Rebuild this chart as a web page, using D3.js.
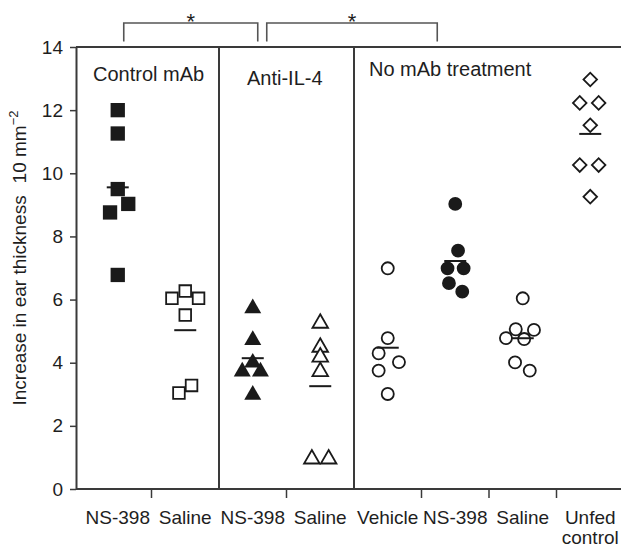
<!DOCTYPE html>
<html>
<head>
<script src="https://d3js.org/d3.v7.min.js"></script>
<style>
  body { margin: 0; background: #fff; }
  svg text { font-family: "Liberation Sans", Arial, Helvetica, sans-serif; fill: #1e1e1e; }
</style>
</head>
<body>
<div id="chart"></div>
<script>

// categories along the x axis, left to right
var categories = ["ctlNS", "ctlSal", "il4NS", "il4Sal", "veh", "noNS", "noSal", "unfed"];
var catLabels = [["NS-398"], ["Saline"], ["NS-398"], ["Saline"], ["Vehicle"], ["NS-398"], ["Saline"], ["Unfed", "control"]];

// boxed panels: name and first category of each
var panelNames = ["Control mAb", "Anti-IL-4", "No mAb treatment"];
var panelFirst = ["ctlNS", "il4NS", "veh"];

var yTicks = [0, 2, 4, 6, 8, 10, 12, 14];

// increase in ear thickness (10 mm^-2), one value per animal
var ctlNS398  = [12.0, 11.26, 9.5, 9.03, 8.76, 6.78];
var ctlSaline = [6.27, 6.04, 6.04, 5.51, 3.28, 3.04];
var il4NS398  = [5.72, 4.72, 4.0, 3.72, 3.72, 2.98];
var il4Saline = [5.25, 4.49, 4.18, 3.72, 0.95, 0.95];
var vehicle   = [6.99, 4.78, 4.30, 4.02, 3.75, 3.01];
var noNS398   = [9.03, 7.55, 6.99, 6.99, 6.52, 6.25];
var noSaline  = [6.04, 5.06, 5.04, 4.78, 4.75, 4.01, 3.75];
var unfed     = [12.97, 12.23, 12.23, 11.52, 10.26, 10.26, 9.26];

// side-by-side column of each point (in marker widths) where points overlap
var ctlNS398Col  = [0, 0, 0, 0.75, -0.55, 0];
var ctlSalineCol = [0, -0.95, 0.95, 0, 0.45, -0.45];
var il4NS398Col  = [0, 0, 0, -0.75, 0.55, 0];
var il4SalineCol = [0, 0, 0, 0, -0.6, 0.6];
var vehicleCol   = [0, 0, -0.65, 0.8, -0.65, 0];
var noNS398Col   = [0, 0.2, -0.55, 0.6, -0.45, 0.5];
var noSalineCol  = [0, -0.5, 0.8, -1.2, 0.1, -0.55, 0.5];
var unfedCol     = [0, -0.75, 0.6, 0, -0.75, 0.6, 0];

// significance brackets
var brackets = [
  { from: "ctlNS", to: "il4NS", label: "*" },
  { from: "il4NS", to: "noNS", label: "*" }
];

var groups = [
  { cat: "ctlNS",  values: ctlNS398,  col: ctlNS398Col,  shape: "square" },
  { cat: "ctlSal", values: ctlSaline, col: ctlSalineCol, shape: "squareOpen" },
  { cat: "il4NS",  values: il4NS398,  col: il4NS398Col,  shape: "triangle" },
  { cat: "il4Sal", values: il4Saline, col: il4SalineCol, shape: "triangleOpen" },
  { cat: "veh",    values: vehicle,   col: vehicleCol,   shape: "circleOpen" },
  { cat: "noNS",   values: noNS398,   col: noNS398Col,   shape: "circle" },
  { cat: "noSal",  values: noSaline,  col: noSalineCol,  shape: "circleOpen" },
  { cat: "unfed",  values: unfed,     col: unfedCol,     shape: "diamondOpen" }
];

// marker look for each shape
var shapes = {
  square:       { type: d3.symbolSquare,   size: 205, filled: true },
  squareOpen:   { type: d3.symbolSquare,   size: 135, filled: false },
  triangle:     { type: d3.symbolTriangle, size: 125, filled: true },
  triangleOpen: { type: d3.symbolTriangle, size: 105, filled: false },
  circle:       { type: d3.symbolCircle,   size: 150, filled: true },
  circleOpen:   { type: d3.symbolCircle,   size: 115, filled: false },
  diamondOpen:  { type: d3.symbolSquare,   size: 92,  filled: false, rotate: 45 }
};

var W = 621, H = 547;
var axisX = 76;
var ink = "#1a1a1a", lineCol = "#3a3a3a";
var font = 19;

var svg = d3.select("#chart").append("svg")
  .attr("width", W)
  .attr("height", H);

var x = d3.scaleBand()
  .domain(categories)
  .range([84, 624]);

var y = d3.scaleLinear()
  .domain([0, 14])
  .range([489, 47]);

var bw = x.bandwidth();
var cx = function(c) { return x(c) + bw / 2; };
var colStep = 14;

// y axis
var yAxis = svg.append("g")
  .attr("transform", "translate(" + axisX + ",0)")
  .call(d3.axisLeft(y).tickValues(yTicks).tickSize(6).tickSizeOuter(0).tickPadding(7));
yAxis.select(".domain").attr("stroke", lineCol).attr("stroke-width", 2);
yAxis.selectAll(".tick line").attr("stroke", lineCol).attr("stroke-width", 1.5);
yAxis.selectAll(".tick text")
  .style("font-size", font + "px")
  .style("font-family", "'Liberation Sans', Arial, sans-serif")
  .attr("fill", ink);

// top edge of the boxes and the x axis line
svg.append("line")
  .attr("x1", axisX).attr("x2", W)
  .attr("y1", y(14)).attr("y2", y(14))
  .attr("stroke", lineCol).attr("stroke-width", 2);
svg.append("line")
  .attr("x1", axisX).attr("x2", W)
  .attr("y1", y(0)).attr("y2", y(0))
  .attr("stroke", lineCol).attr("stroke-width", 2);

// panel dividers
svg.selectAll(".divider")
  .data(panelFirst.slice(1))
  .join("line")
  .attr("class", "divider")
  .attr("x1", d => x(d)).attr("x2", d => x(d))
  .attr("y1", y(14)).attr("y2", y(0))
  .attr("stroke", lineCol).attr("stroke-width", 2);

// small ticks between categories that share a panel
var tickCats = categories.filter((c, i) => i > 0 && panelFirst.indexOf(c) < 0);
svg.selectAll(".xtick")
  .data(tickCats)
  .join("line")
  .attr("class", "xtick")
  .attr("x1", d => x(d)).attr("x2", d => x(d))
  .attr("y1", y(0)).attr("y2", y(0) + 9)
  .attr("stroke", lineCol).attr("stroke-width", 1.5);

// category labels
var xl = svg.selectAll(".xlab")
  .data(categories)
  .join("text")
  .attr("class", "xlab")
  .attr("text-anchor", "middle")
  .style("font-size", font + "px");
xl.selectAll("tspan")
  .data((d, i) => catLabels[i].map(t => ({ t: t, c: d })))
  .join("tspan")
  .attr("x", d => cx(d.c))
  .attr("y", (d, i) => 524 + i * 20)
  .text(d => d.t);

// panel titles
var titleDx = [17, 28, 15];
var titleY = [81, 85, 76];
svg.selectAll(".ptitle")
  .data(panelNames)
  .join("text")
  .attr("class", "ptitle")
  .attr("x", (d, i) => (i == 0 ? axisX : x(panelFirst[i])) + titleDx[i])
  .attr("y", (d, i) => titleY[i])
  .style("font-size", "20px")
  .text(d => d);

// y axis title
var yt = svg.append("text")
  .attr("transform", "translate(26," + 258 + ") rotate(-90)")
  .attr("text-anchor", "middle")
  .style("font-size", font + "px");
yt.append("tspan").text("Increase in ear thickness");
yt.append("tspan").attr("dx", 12).text("10 mm");
yt.append("tspan").attr("dy", -8).style("font-size", "13px").text("\u22122");

// brackets with stars
var bTop = 23, bBottom = 41.5;
brackets.forEach(function(b, i) {
  var x1 = cx(b.from) + (i == 0 ? 6 : 14);
  var x2 = cx(b.to) + (i == 0 ? 5 : -18);
  svg.append("path")
    .attr("d", "M" + x1 + "," + bBottom + "V" + bTop + "H" + x2 + "V" + bBottom)
    .attr("fill", "none")
    .attr("stroke", "#555")
    .attr("stroke-width", 1.6);
  svg.append("text")
    .attr("x", (x1 + x2) / 2)
    .attr("y", 29)
    .attr("text-anchor", "middle")
    .style("font-size", "22px")
    .text(b.label);
});

// points
groups.forEach(function(g) {
  var s = shapes[g.shape];
  var sym = d3.symbol().type(s.type).size(s.size);
  svg.append("g")
    .selectAll("path")
    .data(g.values)
    .join("path")
    .attr("d", sym)
    .attr("transform", (d, i) => "translate(" + (cx(g.cat) + g.col[i] * colStep) + "," + y(d) + ")" + (s.rotate ? " rotate(" + s.rotate + ")" : ""))
    .attr("fill", s.filled ? ink : "#fff")
    .attr("stroke", ink)
    .attr("stroke-width", s.filled ? 0 : 1.8);

  // group mean
  var m = d3.mean(g.values);
  svg.append("line")
    .attr("x1", cx(g.cat) - 11).attr("x2", cx(g.cat) + 11)
    .attr("y1", y(m)).attr("y2", y(m))
    .attr("stroke", ink)
    .attr("stroke-width", 2);
});

</script>
</body>
</html>
